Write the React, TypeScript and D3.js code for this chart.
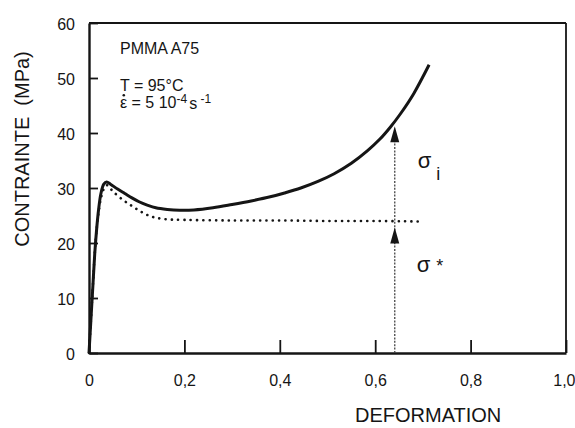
/**
 * PMMA A75 — courbe contrainte / déformation (T = 95°C)
 * trait plein : contrainte vraie, pointillé : contrainte effective σ*
 */
import { useEffect, useRef } from 'react';
import * as d3 from 'd3';

// ── données ──
const strainTotal = [0, 0.004, 0.008, 0.012, 0.016, 0.02, 0.025, 0.031, 0.037, 0.045, 0.06, 0.075, 0.09, 0.105, 0.122, 0.14, 0.164, 0.19, 0.22, 0.26, 0.3, 0.34, 0.38, 0.41, 0.444, 0.48, 0.514, 0.55, 0.584, 0.61, 0.632, 0.653, 0.681, 0.713];
const stressTotal = [0, 6, 12, 18, 22.5, 26, 29, 30.7, 31.1, 30.7, 29.8, 29.0, 28.2, 27.5, 26.9, 26.4, 26.1, 25.95, 26.0, 26.4, 27.0, 27.65, 28.4, 29.1, 30.0, 31.2, 32.6, 34.5, 36.8, 38.9, 41.1, 43.5, 47.2, 52.4];

const strainEff = [0, 0.004, 0.008, 0.012, 0.016, 0.02, 0.026, 0.032, 0.038, 0.05, 0.07, 0.087, 0.105, 0.122, 0.14, 0.164, 0.2, 0.3, 0.4, 0.5, 0.6, 0.7];
const stressEff = [0, 6, 12, 18, 22.5, 25.5, 28.5, 30.0, 30.5, 29.4, 27.9, 26.9, 25.9, 25.1, 24.6, 24.3, 24.2, 24.1, 24.1, 24.0, 24.0, 23.9];

const xTicks = [0, 0.2, 0.4, 0.6, 0.8, 1.0];
const xTickLabels = ['0', '0,2', '0,4', '0,6', '0,8', '1,0'];
const yTicks = [0, 10, 20, 30, 40, 50, 60];

// flèches σ* / σi
const arrowStrain = 0.641;
const sigmaStar = 23.9;
const sigmaI = 41.6;

const W = 575;
const H = 428;
const INK = '#151515';
const FONT = '"Liberation Sans", Arial, sans-serif';

export default function App() {
  const svgRef = useRef<SVGSVGElement>(null);

  useEffect(() => {
    if (!svgRef.current) return;
    const svg = d3.select(svgRef.current);
    svg.selectAll('*').remove();

    const margin = { top: 23, right: 9, bottom: 75, left: 89 };
    const plotW = W - margin.left - margin.right;
    const plotH = H - margin.top - margin.bottom;

    const x = d3.scaleLinear().domain([0, 1]).range([0, plotW]);
    const y = d3.scaleLinear().domain([0, 60]).range([plotH, 0]);

    const g = svg.append('g').attr('transform', `translate(${margin.left},${margin.top})`);

    // ── cadre ──
    g.append('line').attr('x1', 0).attr('x2', plotW).attr('y1', 0).attr('y2', 0)
      .attr('stroke', INK).attr('stroke-width', 1.8);
    g.append('line').attr('x1', plotW).attr('x2', plotW).attr('y1', 0).attr('y2', plotH)
      .attr('stroke', INK).attr('stroke-width', 1.8);

    // ── axes (graduations vers l'intérieur) ──
    const yAxis = g.append('g')
      .call(d3.axisLeft(y).tickValues(yTicks).tickSizeInner(-9).tickSizeOuter(0).tickPadding(14));
    const xAxis = g.append('g')
      .attr('transform', `translate(0,${plotH})`)
      .call(d3.axisBottom(x).tickValues(xTicks).tickSizeInner(-13).tickSizeOuter(0).tickPadding(22)
        .tickFormat((_, i) => xTickLabels[i]));

    [yAxis, xAxis].forEach((a) => {
      a.select('.domain').attr('stroke', INK).attr('stroke-width', 2.4);
      a.selectAll('.tick line').attr('stroke', INK).attr('stroke-width', 1.8);
      a.selectAll('.tick text').attr('fill', INK).attr('font-size', '16px').attr('font-family', FONT);
    });
    yAxis.selectAll('.tick text').attr('dy', '0.38em');
    // "1,0" collé au bord droit
    xAxis.selectAll('.tick text').filter((d) => d === 1).attr('text-anchor', 'end').attr('dx', 9);

    // ── courbes ──
    const totalPts = strainTotal.map((s, i) => [s, stressTotal[i]] as [number, number]);
    const effPts = strainEff.map((s, i) => [s, stressEff[i]] as [number, number]);
    const line = d3.line<[number, number]>()
      .x((d) => x(d[0]))
      .y((d) => y(d[1]))
      .curve(d3.curveCatmullRom.alpha(0.5));

    g.append('path')
      .datum(effPts)
      .attr('d', line)
      .attr('fill', 'none')
      .attr('stroke', INK)
      .attr('stroke-width', 2.6)
      .attr('stroke-linecap', 'round')
      .attr('stroke-dasharray', '0.1,6.2');

    g.append('path')
      .datum(totalPts)
      .attr('d', line)
      .attr('fill', 'none')
      .attr('stroke', INK)
      .attr('stroke-width', 3);

    // ── flèches ──
    const ax = x(arrowStrain);
    const headH = 16;
    const headW = 4.5;
    g.append('line')
      .attr('x1', ax).attr('x2', ax)
      .attr('y1', y(0)).attr('y2', y(sigmaI) + 4)
      .attr('stroke', '#444').attr('stroke-width', 1.3).attr('stroke-dasharray', '2,1.4');

    const tips = [y(sigmaI) + 2, y(sigmaStar) + 6];
    g.selectAll('.arrow-head')
      .data(tips)
      .enter()
      .append('path')
      .attr('d', (t) => `M${ax},${t} L${ax - headW},${t + headH} L${ax + headW},${t + headH} Z`)
      .attr('fill', INK);

    // ── étiquettes σ ──
    const sigI = g.append('text')
      .attr('x', ax + 23).attr('y', y(sigmaI) + 44)
      .attr('font-family', FONT).attr('fill', INK).attr('font-size', '22px');
    sigI.append('tspan').text('σ');
    sigI.append('tspan').attr('font-size', '18px').attr('dx', 5).attr('dy', 12).text('i');

    const sigS = g.append('text')
      .attr('x', ax + 22).attr('y', y(sigmaStar) + 50)
      .attr('font-family', FONT).attr('fill', INK).attr('font-size', '22px');
    sigS.append('tspan').text('σ');
    sigS.append('tspan').attr('font-size', '18px').attr('dx', 6).text('*');

    // ── légende matériau ──
    const ann = g.append('g').attr('font-family', FONT).attr('fill', INK).attr('font-size', '16px');
    ann.append('text').attr('x', x(0.065)).attr('y', y(54.3)).text('PMMA A75');
    ann.append('text').attr('x', x(0.065)).attr('y', y(47.6)).text('T = 95°C');
    const rateY = y(44.6);
    const rate = ann.append('text').attr('x', x(0.065)).attr('y', rateY);
    rate.append('tspan').text('ε = 5  10');
    rate.append('tspan').attr('font-size', '12px').attr('dy', -5).text('-4');
    rate.append('tspan').attr('dy', 6).attr('dx', 2).text('s');
    rate.append('tspan').attr('font-size', '12px').attr('dy', -6).text(' -1');
    // point au-dessus de ε (dérivée temporelle)
    ann.append('circle').attr('cx', x(0.065) + 3.8).attr('cy', rateY - 12.5).attr('r', 1.3);

    // ── titres des axes ──
    svg.append('text')
      .attr('x', margin.left + x(0.711))
      .attr('y', H - 6)
      .attr('text-anchor', 'middle')
      .attr('font-family', FONT).attr('font-size', '20px').attr('fill', INK)
      .text('DEFORMATION');

    svg.append('text')
      .attr('transform', 'rotate(-90)')
      .attr('x', -149)
      .attr('y', 29)
      .attr('text-anchor', 'middle')
      .attr('font-family', FONT).attr('font-size', '20px').attr('fill', INK)
      .style('white-space', 'pre')
      .text('CONTRAINTE  (MPa)');
  }, []);

  return (
    <div style={{ width: W, height: H, background: '#fff' }}>
      <style>{'body{margin:0}'}</style>
      <svg ref={svgRef} width={W} height={H} style={{ display: 'block' }} />
    </div>
  );
}
